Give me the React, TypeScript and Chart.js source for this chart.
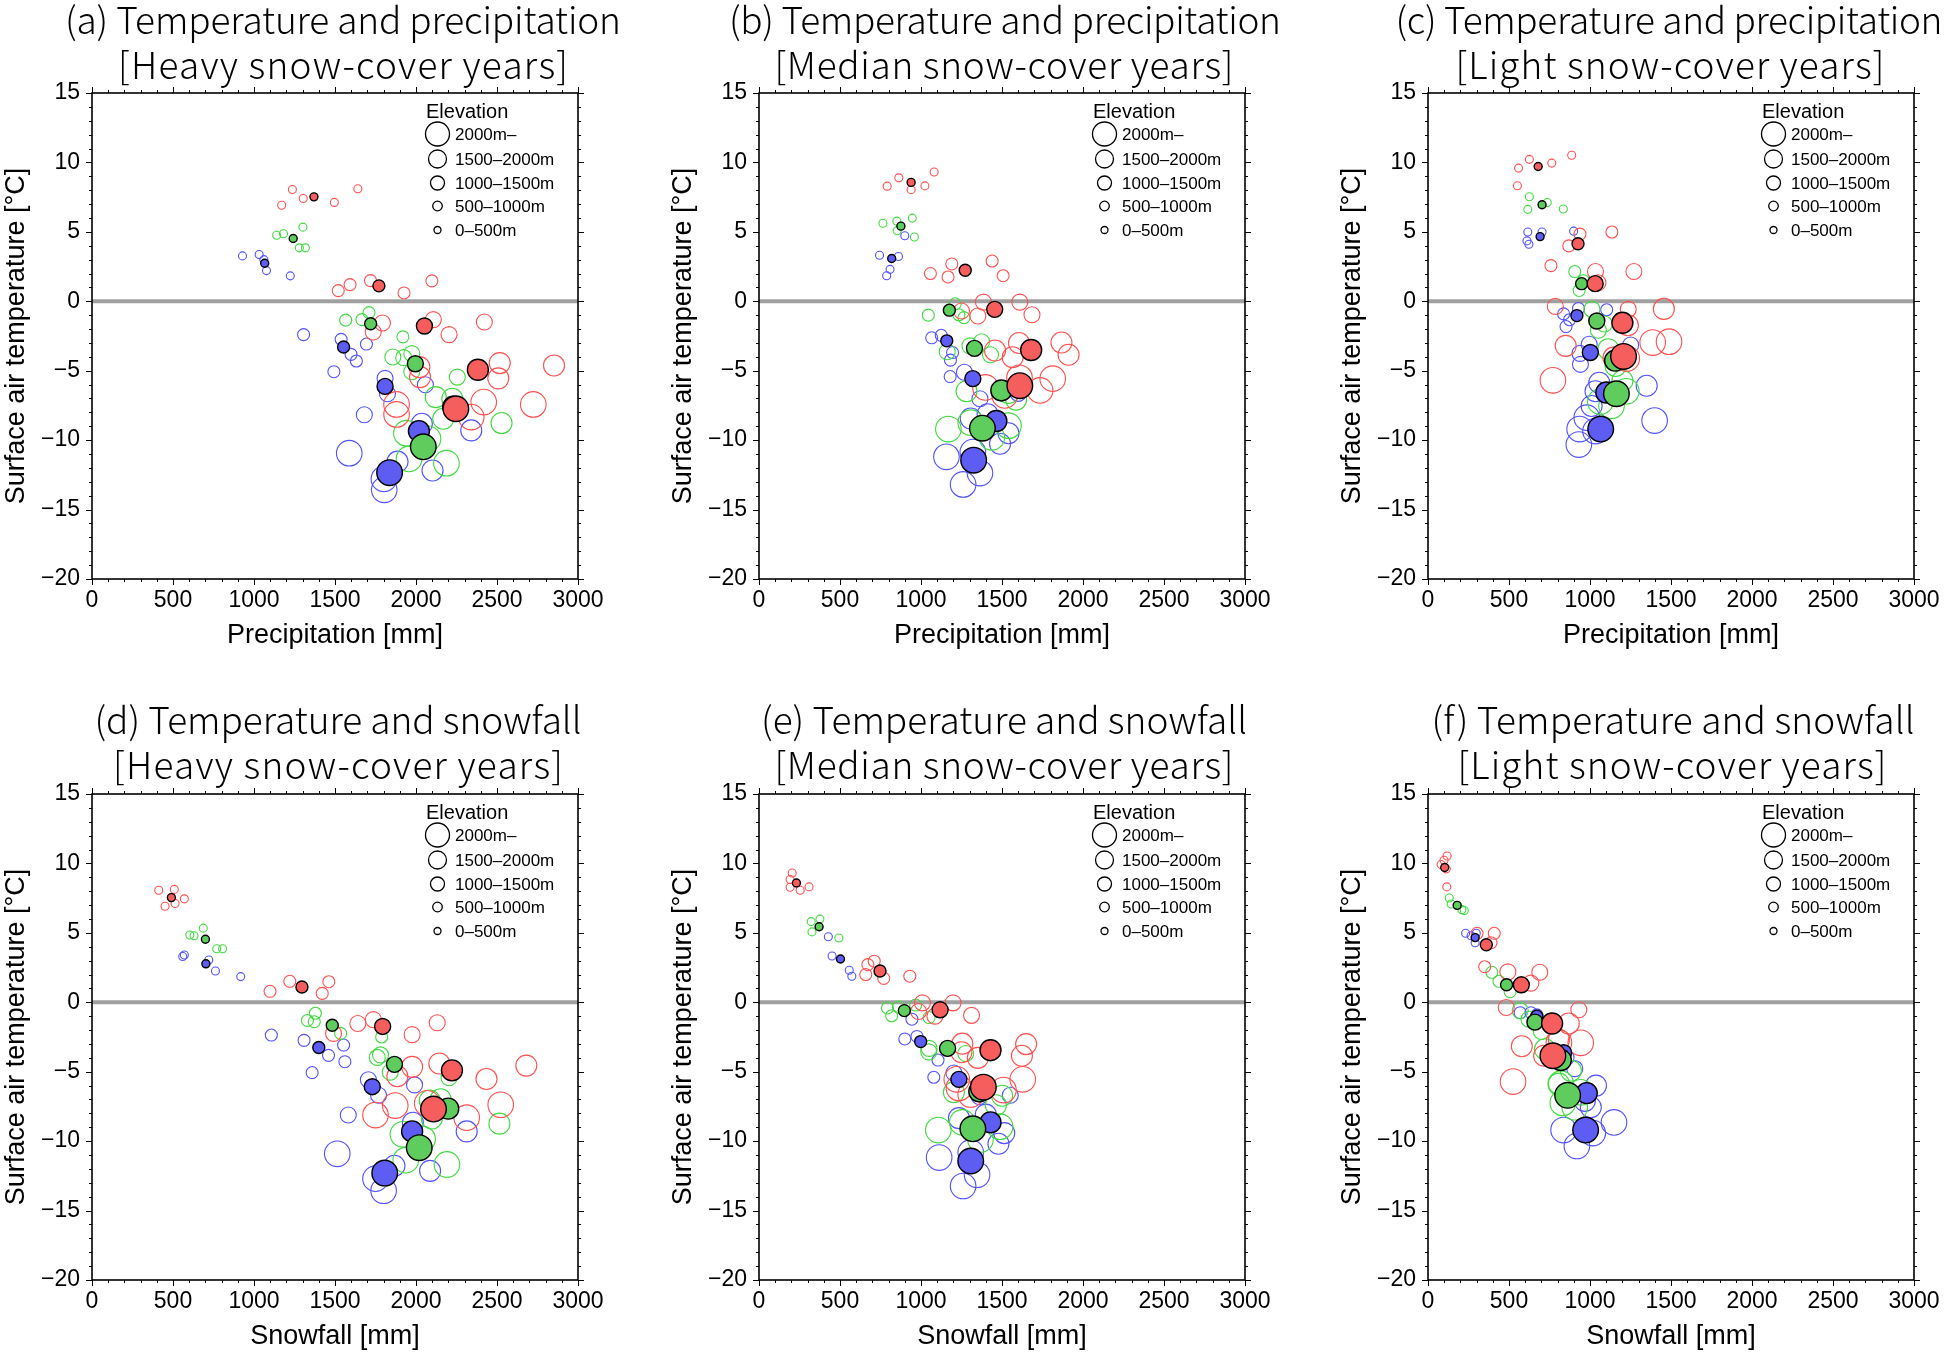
import React, { useEffect, useRef } from 'react';
import { Chart, registerables } from 'chart.js';

Chart.register(...registerables);

// ---------------------------------------------------------------------------
// Data: [x value (mm), surface air temperature (°C), elevation class]
// elevation class: 0 = 0-500m, 1 = 500-1000m, 2 = 1000-1500m, 3 = 1500-2000m, 4 = 2000m-
// ---------------------------------------------------------------------------
type Pt = [number, number, number];

// (a) Temperature and precipitation, heavy snow-cover years
const A_RED_OPEN: Pt[] = [
  [1237, 8.05, 0], [1171, 6.92, 0], [1304, 7.4, 0], [1496, 7.12, 0], [1641, 8.1, 0],
  [1520, 0.77, 1], [1593, 1.2, 1], [1719, 1.49, 1], [1926, 0.6, 1], [2098, 1.47, 1],
  [1793, -1.56, 2], [1736, -2.21, 2], [2107, -1.32, 2], [2204, -2.4, 2], [2422, -1.49, 2],
  [2517, -4.45, 3], [2508, -5.55, 3], [2852, -4.62, 3], [2021, -4.74, 3], [2025, -5.46, 3],
  [1880, -7.43, 4], [1880, -8.15, 4], [2418, -7.26, 4], [2724, -7.43, 4], [2341, -8.34, 4],
];
const A_RED_MEAN: Pt[] = [[1370, 7.52, 0], [1771, 1.11, 1], [2052, -1.78, 2], [2382, -4.93, 3], [2246, -7.74, 4]];
const A_GREEN_OPEN: Pt[] = [
  [1140, 4.76, 0], [1182, 4.86, 0], [1302, 5.34, 0], [1280, 3.85, 0], [1317, 3.85, 0],
  [1566, -1.36, 1], [1666, -1.32, 1], [1710, -0.82, 1], [1919, -2.56, 1],
  [1857, -4.01, 2], [1924, -4.06, 2], [1974, -3.77, 2], [1974, -5.07, 2], [2255, -5.46, 2],
  [2122, -6.9, 3], [2224, -7.02, 3], [2168, -8.46, 3], [2528, -8.77, 3],
  [1941, -9.5, 4], [2074, -9.9, 4], [1957, -11.35, 4], [2188, -11.66, 4],
];
const A_GREEN_MEAN: Pt[] = [[1242, 4.52, 0], [1720, -1.62, 1], [1996, -4.5, 2], [2230, -7.6, 3], [2045, -10.48, 4]];
const A_BLUE_OPEN: Pt[] = [
  [929, 3.27, 0], [1032, 3.37, 0], [1061, 3.0, 0], [1077, 2.21, 0], [1224, 1.83, 0],
  [1306, -2.4, 1], [1538, -2.74, 1], [1694, -3.08, 1], [1599, -3.82, 1], [1632, -4.3, 1], [1493, -5.07, 1],
  [1809, -5.55, 2], [2058, -6.01, 2], [1824, -6.66, 2], [1681, -8.17, 2],
  [2036, -8.82, 3], [2341, -9.3, 3], [2102, -12.19, 3], [1886, -11.55, 3],
  [1588, -10.94, 4], [1802, -12.79, 4], [1804, -13.58, 4],
];
const A_BLUE_MEAN: Pt[] = [[1066, 2.74, 0], [1553, -3.29, 1], [1809, -6.13, 2], [2018, -9.35, 3], [1837, -12.34, 4]];

// (b) Temperature and precipitation, median snow-cover years
const B_RED_OPEN: Pt[] = [
  [791, 8.29, 0], [863, 8.89, 0], [939, 8.04, 0], [1024, 8.31, 0], [1081, 9.31, 0],
  [1058, 2.0, 1], [1167, 1.75, 1], [1190, 2.69, 1], [1439, 2.9, 1], [1507, 1.84, 1],
  [1250, -0.7, 2], [1351, -1.06, 2], [1385, -0.06, 2], [1610, -0.06, 2], [1685, -0.97, 2],
  [1457, -3.54, 3], [1566, -4.03, 3], [1605, -3.0, 3], [1867, -2.97, 3], [1911, -3.85, 3],
  [1398, -6.2, 4], [1517, -6.78, 4], [1735, -6.42, 4], [1813, -5.57, 4], [1608, -5.51, 4],
];
const B_RED_MEAN: Pt[] = [[939, 8.56, 0], [1273, 2.24, 1], [1455, -0.58, 2], [1680, -3.51, 3], [1610, -6.08, 4]];
const B_GREEN_OPEN: Pt[] = [
  [765, 5.62, 0], [851, 5.77, 0], [853, 5.08, 0], [946, 5.99, 0], [959, 4.63, 0],
  [1045, -1.0, 1], [1211, -0.18, 1], [1265, -1.18, 1], [1234, -0.97, 1],
  [1162, -3.63, 2], [1302, -3.21, 2], [1374, -2.91, 2], [1429, -3.85, 2],
  [1281, -6.48, 3], [1587, -7.08, 3], [1540, -6.6, 3],
  [1169, -9.2, 4], [1307, -8.74, 4], [1437, -9.8, 4], [1540, -8.96, 4],
];
const B_GREEN_MEAN: Pt[] = [[876, 5.41, 0], [1175, -0.64, 1], [1330, -3.39, 2], [1496, -6.42, 3], [1379, -9.14, 4]];
const B_BLUE_OPEN: Pt[] = [
  [744, 3.32, 0], [809, 2.3, 0], [788, 1.84, 0], [861, 3.23, 0], [900, 4.72, 0],
  [1066, -2.63, 1], [1125, -2.45, 1], [1195, -3.69, 1], [1182, -4.24, 1], [1180, -5.42, 1],
  [1268, -5.11, 2], [1364, -7.02, 2], [1600, -6.63, 2],
  [1307, -8.44, 3], [1411, -8.14, 3], [1540, -9.5, 3], [1488, -10.26, 3],
  [1157, -11.2, 4], [1260, -13.19, 4], [1364, -12.37, 4], [1320, -10.86, 4],
];
const B_BLUE_MEAN: Pt[] = [[819, 3.08, 0], [1159, -2.85, 1], [1320, -5.57, 2], [1465, -8.62, 3], [1325, -11.44, 4]];

// (c) Temperature and precipitation, light snow-cover years
const C_RED_OPEN: Pt[] = [
  [559, 9.59, 0], [626, 10.22, 0], [552, 8.32, 0], [764, 9.95, 0], [887, 10.52, 0],
  [759, 2.57, 1], [869, 3.99, 1], [938, 4.84, 1], [1135, 4.99, 1],
  [1034, 2.14, 2], [1271, 2.14, 2], [1049, 1.33, 2], [786, -0.37, 2], [1236, -0.58, 2],
  [1456, -0.55, 3], [1234, -1.73, 3], [850, -3.21, 3], [1145, -4.06, 3],
  [771, -5.69, 4], [1227, -4.12, 4], [1488, -2.91, 4], [1387, -2.97, 4],
];
const C_RED_MEAN: Pt[] = [[680, 9.71, 0], [926, 4.14, 1], [1032, 1.27, 2], [1200, -1.55, 3], [1207, -3.97, 4]];
const C_GREEN_OPEN: Pt[] = [
  [626, 7.53, 0], [616, 6.62, 0], [736, 7.11, 0], [835, 6.65, 0],
  [906, 2.14, 1], [933, 0.78, 1], [960, 1.48, 1],
  [1012, -0.58, 2], [1089, -1.64, 2], [1052, -2.09, 2],
  [1113, -3.45, 3], [1158, -4.66, 3], [1200, -5.72, 3],
  [1064, -7.23, 4], [1133, -7.53, 4], [1224, -6.48, 4],
];
const C_GREEN_MEAN: Pt[] = [[704, 6.95, 0], [948, 1.27, 1], [1042, -1.42, 2], [1155, -4.27, 3], [1163, -6.66, 4]];
const C_BLUE_OPEN: Pt[] = [
  [616, 4.99, 0], [611, 4.35, 0], [623, 4.11, 0], [704, 4.99, 0], [899, 5.05, 0],
  [837, -0.91, 1], [852, -1.82, 1], [929, -0.52, 1], [1103, -0.61, 1], [874, -1.33, 1],
  [995, -3.09, 2], [938, -3.75, 2], [941, -4.54, 2], [1251, -3.15, 2],
  [1057, -5.87, 3], [1350, -6.08, 3], [1034, -6.48, 3], [1010, -7.54, 3],
  [980, -8.38, 4], [936, -9.2, 4], [931, -10.32, 4], [1399, -8.59, 4], [1034, -9.35, 4],
];
const C_BLUE_MEAN: Pt[] = [[692, 4.66, 0], [919, -1.03, 1], [1002, -3.69, 2], [1101, -6.57, 3], [1066, -9.2, 4]];

// (d) Temperature and snowfall, heavy snow-cover years
const D_RED_OPEN: Pt[] = [
  [412, 8.07, 0], [451, 6.92, 0], [508, 8.13, 0], [513, 7.11, 0], [570, 7.45, 0],
  [1099, 0.79, 1], [1221, 1.51, 1], [1421, 0.64, 1], [1462, 1.48, 1],
  [1641, -1.53, 2], [1737, -1.25, 2], [1491, -2.24, 2], [1976, -2.33, 2], [2131, -1.47, 2],
  [2144, -4.41, 3], [1976, -4.65, 3], [1885, -5.33, 3], [2435, -5.52, 3], [2681, -4.56, 3],
  [1750, -8.12, 4], [1872, -7.44, 4], [2313, -8.31, 4], [2523, -7.38, 4], [2069, -7.28, 4],
];
const D_RED_MEAN: Pt[] = [[490, 7.54, 0], [1296, 1.1, 1], [1794, -1.74, 2], [2222, -4.9, 3], [2108, -7.69, 4]];
const D_GREEN_OPEN: Pt[] = [
  [604, 4.85, 0], [630, 4.79, 0], [687, 5.34, 0], [770, 3.86, 0], [806, 3.86, 0],
  [1330, -1.31, 1], [1372, -1.4, 1], [1379, -0.79, 1], [1535, -2.24, 1], [1788, -2.5, 1],
  [1761, -3.97, 2], [1781, -3.79, 2], [1841, -5.03, 2], [2204, -5.43, 2],
  [2085, -7.07, 3], [2152, -6.98, 3], [2098, -8.37, 3], [2515, -8.74, 3],
  [1919, -9.51, 4], [2041, -9.85, 4], [1937, -11.37, 4], [2191, -11.68, 4],
];
const D_GREEN_MEAN: Pt[] = [[700, 4.54, 0], [1483, -1.65, 1], [1867, -4.47, 2], [2199, -7.66, 3], [2020, -10.47, 4]];
const D_BLUE_OPEN: Pt[] = [
  [560, 3.3, 0], [570, 3.4, 0], [721, 3.05, 0], [762, 2.25, 0], [918, 1.85, 0],
  [1107, -2.36, 1], [1309, -2.74, 1], [1460, -3.82, 1], [1553, -3.08, 1], [1561, -4.28, 1], [1359, -5.06, 1],
  [1706, -5.58, 2], [1769, -6.7, 2], [1991, -5.95, 2], [1582, -8.12, 2],
  [1981, -8.68, 3], [2313, -9.3, 3], [2087, -12.14, 3], [1867, -11.77, 3],
  [1514, -10.91, 4], [1750, -12.7, 4], [1800, -13.57, 4],
];
const D_BLUE_MEAN: Pt[] = [[703, 2.77, 0], [1400, -3.26, 1], [1730, -6.08, 2], [1976, -9.3, 3], [1807, -12.3, 4]];

// (e) Temperature and snowfall, median snow-cover years
const E_RED_OPEN: Pt[] = [
  [192, 8.28, 0], [205, 9.31, 0], [192, 8.84, 0], [254, 8.07, 0], [309, 8.31, 0],
  [659, 2.0, 1], [672, 2.71, 1], [711, 2.96, 1], [770, 1.72, 1], [931, 1.88, 1],
  [1009, -0.04, 2], [985, -0.66, 2], [1086, -1.0, 2], [1198, -0.04, 2], [1312, -0.94, 2],
  [1255, -2.98, 3], [1250, -3.6, 3], [1351, -4.0, 3], [1623, -3.85, 3], [1649, -3.01, 3],
  [1234, -6.17, 4], [1307, -6.64, 4], [1509, -6.32, 4], [1628, -5.55, 4], [1221, -5.55, 4],
];
const E_RED_MEAN: Pt[] = [[231, 8.59, 0], [747, 2.25, 1], [1118, -0.54, 2], [1429, -3.45, 3], [1385, -6.11, 4]];
const E_GREEN_OPEN: Pt[] = [
  [322, 5.81, 0], [376, 5.99, 0], [327, 5.07, 0], [493, 4.63, 0],
  [793, -0.41, 1], [819, -0.97, 1], [861, -0.35, 1], [967, -0.2, 1], [1050, -1.1, 1],
  [1050, -3.32, 2], [1048, -3.57, 2], [1276, -3.69, 2],
  [1203, -6.48, 3], [1501, -6.73, 3], [1462, -7.41, 3],
  [1107, -9.2, 4], [1255, -8.65, 4], [1367, -9.88, 4], [1488, -8.96, 4],
];
const E_GREEN_MEAN: Pt[] = [[371, 5.44, 0], [897, -0.6, 1], [1164, -3.32, 2], [1360, -6.42, 3], [1320, -9.11, 4]];
const E_BLUE_OPEN: Pt[] = [
  [428, 4.72, 0], [451, 3.33, 0], [557, 2.31, 0], [573, 1.88, 0],
  [900, -2.64, 1], [975, -2.46, 1], [1105, -4.16, 1], [1079, -5.4, 1], [944, -1.22, 1],
  [1203, -5.09, 2], [1359, -6.79, 2], [1551, -6.7, 2],
  [1234, -8.34, 3], [1400, -8.09, 3], [1514, -9.42, 3], [1478, -10.19, 3],
  [1112, -11.18, 4], [1260, -13.23, 4], [1346, -12.42, 4], [1307, -10.81, 4],
];
const E_BLUE_MEAN: Pt[] = [[503, 3.12, 0], [998, -2.83, 1], [1234, -5.55, 2], [1429, -8.65, 3], [1307, -11.43, 4]];

// (f) Temperature and snowfall, light snow-cover years
const F_RED_OPEN: Pt[] = [
  [81, 9.92, 0], [118, 10.54, 0], [116, 8.31, 0], [99, 10.23, 0], [113, 9.61, 0],
  [350, 2.56, 1], [303, 4.97, 1], [409, 4.97, 1], [389, 4.29, 1],
  [493, 2.19, 2], [690, 2.16, 2], [635, 1.38, 2], [483, -0.38, 2], [931, -0.54, 2],
  [869, -1.53, 3], [579, -3.17, 3], [808, -2.7, 3], [717, -3.85, 3],
  [525, -5.71, 4], [943, -2.92, 4], [808, -2.9, 4],
];
const F_RED_MEAN: Pt[] = [[103, 9.71, 0], [360, 4.14, 1], [576, 1.26, 2], [766, -1.53, 3], [771, -3.85, 4]];
const F_GREEN_OPEN: Pt[] = [
  [131, 7.51, 0], [143, 7.08, 0], [224, 6.61, 0], [209, 6.67, 0],
  [394, 2.16, 1], [438, 1.51, 1], [507, 0.76, 1],
  [569, -0.6, 2], [623, -1.22, 2], [700, -2.1, 2],
  [722, -3.38, 3], [882, -4.93, 3], [808, -5.86, 3],
  [820, -5.86, 4], [832, -7.25, 4], [906, -7.56, 4], [943, -6.48, 4],
];
const F_GREEN_MEAN: Pt[] = [[180, 6.98, 0], [485, 1.26, 1], [660, -1.43, 2], [820, -4.16, 3], [862, -6.7, 4]];
const F_BLUE_OPEN: Pt[] = [
  [232, 4.97, 0], [291, 4.29, 0], [266, 4.79, 0], [298, 4.97, 0],
  [635, -0.75, 1], [569, -0.75, 1], [672, -0.91, 1],
  [852, -4.0, 2], [906, -4.78, 2],
  [1037, -6.0, 3], [968, -7.1, 3], [1005, -7.56, 3],
  [837, -9.2, 4], [919, -10.35, 4], [1148, -8.65, 4], [1017, -9.42, 4],
];
const F_BLUE_MEAN: Pt[] = [[291, 4.66, 0], [672, -1.0, 1], [837, -3.63, 2], [980, -6.54, 3], [973, -9.2, 4]];

// Axis settings
const X_MIN = 0;
const X_MAX = 3000;
const X_MAJOR = 500;
const X_MINOR = 100;
const Y_MIN = -20;
const Y_MAX = 15;
const Y_MAJOR = 5;
const Y_MINOR = 1;
const Y_TITLE = 'Surface air temperature [°C]';
const LEGEND_TITLE = 'Elevation';
// legend order top -> bottom uses classes 4..0
const ELEV_LABELS = ['0–500m', '500–1000m', '1000–1500m', '1500–2000m', '2000m–'];

// ---------------------------------------------------------------------------
// Styles / layout
// ---------------------------------------------------------------------------
const POINT_R = [4, 6, 8, 10.5, 12.8];
const LEGEND_R = [3.5, 4.8, 7, 9, 12];
const COLORS = {
  red: { fill: '#f65e5e', line: '#ff5050' },
  green: { fill: '#5ecd5e', line: '#40da40' },
  blue: { fill: '#5d5df3', line: '#5252ff' },
};
const ZERO_COLOR = '#a0a0a0';
const SANS = '"Liberation Sans", Arial, Helvetica, sans-serif';
const PLOT = 486;
const Y_AXIS_W = 92;
const X_AXIS_H = 90;
const PAD_T = 16;
const PAD_R = 34;

const PANELS = [
  { key: 'a', l1: '(a) Temperature and precipitation', l2: '[Heavy snow-cover years]', xt: 'Precipitation [mm]',
    red: [A_RED_OPEN, A_RED_MEAN], green: [A_GREEN_OPEN, A_GREEN_MEAN], blue: [A_BLUE_OPEN, A_BLUE_MEAN],
    left: 92, top: 93, t1: [343, 556, 34], t2: [343, 450, 79] },
  { key: 'b', l1: '(b) Temperature and precipitation', l2: '[Median snow-cover years]', xt: 'Precipitation [mm]',
    red: [B_RED_OPEN, B_RED_MEAN], green: [B_GREEN_OPEN, B_GREEN_MEAN], blue: [B_BLUE_OPEN, B_BLUE_MEAN],
    left: 759, top: 93, t1: [1005, 552, 34], t2: [1004, 459, 79] },
  { key: 'c', l1: '(c) Temperature and precipitation', l2: '[Light snow-cover years]', xt: 'Precipitation [mm]',
    red: [C_RED_OPEN, C_RED_MEAN], green: [C_GREEN_OPEN, C_GREEN_MEAN], blue: [C_BLUE_OPEN, C_BLUE_MEAN],
    left: 1428, top: 93, t1: [1669, 547, 34], t2: [1670, 429, 79] },
  { key: 'd', l1: '(d) Temperature and snowfall', l2: '[Heavy snow-cover years]', xt: 'Snowfall [mm]',
    red: [D_RED_OPEN, D_RED_MEAN], green: [D_GREEN_OPEN, D_GREEN_MEAN], blue: [D_BLUE_OPEN, D_BLUE_MEAN],
    left: 92, top: 794, t1: [338, 487, 734], t2: [338, 450, 779] },
  { key: 'e', l1: '(e) Temperature and snowfall', l2: '[Median snow-cover years]', xt: 'Snowfall [mm]',
    red: [E_RED_OPEN, E_RED_MEAN], green: [E_GREEN_OPEN, E_GREEN_MEAN], blue: [E_BLUE_OPEN, E_BLUE_MEAN],
    left: 759, top: 794, t1: [1004, 486, 734], t2: [1004, 459, 779] },
  { key: 'f', l1: '(f) Temperature and snowfall', l2: '[Light snow-cover years]', xt: 'Snowfall [mm]',
    red: [F_RED_OPEN, F_RED_MEAN], green: [F_GREEN_OPEN, F_GREEN_MEAN], blue: [F_BLUE_OPEN, F_BLUE_MEAN],
    left: 1428, top: 794, t1: [1673, 483, 734], t2: [1672, 429, 779] },
];

const framePlugin = {
  id: 'gmtFrame',
  beforeDatasetsDraw(chart: any) {
    const { ctx, chartArea, scales } = chart;
    const py = scales.y.getPixelForValue(0);
    ctx.save();
    ctx.strokeStyle = ZERO_COLOR;
    ctx.lineWidth = 4;
    ctx.beginPath();
    ctx.moveTo(chartArea.left, py);
    ctx.lineTo(chartArea.right, py);
    ctx.stroke();
    ctx.restore();
  },
  afterDraw(chart: any) {
    const { ctx, chartArea, scales } = chart;
    const { left, right, top, bottom } = chartArea;
    ctx.save();
    ctx.strokeStyle = '#000';
    ctx.lineWidth = 1;
    ctx.beginPath();
    for (let v = X_MIN; v <= X_MAX + 1e-6; v += X_MINOR) {
      const px = Math.round(scales.x.getPixelForValue(v)) + 0.5;
      const len = v % X_MAJOR === 0 ? 6 : 3;
      ctx.moveTo(px, bottom);
      ctx.lineTo(px, bottom + len);
      ctx.moveTo(px, top);
      ctx.lineTo(px, top - len);
    }
    for (let v = Y_MIN; v <= Y_MAX + 1e-6; v += Y_MINOR) {
      const py = Math.round(scales.y.getPixelForValue(v)) + 0.5;
      const len = Math.abs(v % Y_MAJOR) === 0 ? 6 : 3;
      ctx.moveTo(left, py);
      ctx.lineTo(left - len, py);
      ctx.moveTo(right, py);
      ctx.lineTo(right + len, py);
    }
    ctx.stroke();
    ctx.lineWidth = 1.6;
    ctx.strokeRect(left, top, right - left, bottom - top);

    // Elevation legend
    ctx.fillStyle = '#000';
    ctx.font = `20px ${SANS}`;
    ctx.textAlign = 'left';
    ctx.textBaseline = 'alphabetic';
    ctx.fillText(LEGEND_TITLE, left + 334, top + 24.5);
    const rowsY = [41, 66, 90, 113, 137];
    ctx.font = `17px ${SANS}`;
    ctx.textBaseline = 'middle';
    ctx.lineWidth = 1.3;
    for (let i = 0; i < 5; i++) {
      const cls = 4 - i;
      const cy = top + rowsY[i];
      ctx.beginPath();
      ctx.arc(left + 345.5, cy, LEGEND_R[cls], 0, Math.PI * 2);
      ctx.stroke();
      ctx.fillText(ELEV_LABELS[cls], left + 363, cy + 1);
    }
    ctx.restore();
  },
};

function makeDataset(label: string, pts: Pt[], col: { fill: string; line: string }, filled: boolean, order: number) {
  const radius = (c: any) => POINT_R[(c.raw && c.raw.c) || 0];
  return {
    label,
    data: pts.map(([x, y, c]) => ({ x, y, c })),
    order,
    showLine: false,
    pointRadius: radius,
    pointHoverRadius: radius,
    pointBackgroundColor: filled ? col.fill : 'rgba(0,0,0,0)',
    pointBorderColor: filled ? '#000' : col.line,
    pointBorderWidth: filled ? 1.4 : 1.1,
    pointHoverBorderWidth: filled ? 1.4 : 1.1,
  };
}

const fmtTick = (v: any) => String(v).replace('-', '\u2212');

function Panel({ p }: { p: any }) {
  const ref = useRef<HTMLCanvasElement | null>(null);
  useEffect(() => {
    if (!ref.current) return;
    const chart = new Chart(ref.current, {
      type: 'scatter',
      data: {
        datasets: [
          makeDataset('Red – mean', p.red[1], COLORS.red, true, 1),
          makeDataset('Green – mean', p.green[1], COLORS.green, true, 2),
          makeDataset('Blue – mean', p.blue[1], COLORS.blue, true, 3),
          makeDataset('Red', p.red[0], COLORS.red, false, 4),
          makeDataset('Green', p.green[0], COLORS.green, false, 5),
          makeDataset('Blue', p.blue[0], COLORS.blue, false, 6),
        ] as any,
      },
      options: {
        animation: false,
        responsive: false,
        events: [],
        layout: { autoPadding: false, padding: { top: PAD_T, right: PAD_R, left: 0, bottom: 0 } },
        plugins: { legend: { display: false }, tooltip: { enabled: false } },
        scales: {
          x: {
            type: 'linear',
            min: X_MIN,
            max: X_MAX,
            grid: { display: false, drawTicks: false },
            border: { display: false },
            ticks: { stepSize: X_MAJOR, autoSkip: false, maxRotation: 0, color: '#000', font: { size: 23, family: SANS }, padding: 8, callback: fmtTick },
            title: { display: true, text: p.xt, color: '#000', font: { size: 27, family: SANS }, padding: { top: 0, bottom: 17 } },
            afterFit: (s: any) => { s.height = X_AXIS_H; s.paddingLeft = 0; s.paddingRight = 0; },
          },
          y: {
            type: 'linear',
            min: Y_MIN,
            max: Y_MAX,
            grid: { display: false, drawTicks: false },
            border: { display: false },
            ticks: {
              stepSize: Y_MAJOR, autoSkip: false, color: '#000', font: { size: 23, family: SANS }, padding: 12,
              callback: fmtTick,
            },
            title: { display: true, text: Y_TITLE, color: '#000', font: { size: 27, family: SANS }, padding: { top: 0, bottom: 0 } },
            afterFit: (s: any) => { s.width = Y_AXIS_W; s.paddingTop = 0; s.paddingBottom = 0; },
          },
        },
      } as any,
      plugins: [framePlugin],
    });
    return () => chart.destroy();
  }, [p]);
  const w = Y_AXIS_W + PLOT + PAD_R;
  const h = PAD_T + PLOT + X_AXIS_H;
  return (
    <canvas
      ref={ref}
      width={w}
      height={h}
      style={{ position: 'absolute', left: p.left - Y_AXIS_W, top: p.top - PAD_T, width: w, height: h }}
    />
  );
}

export default function App() {
  const titleFont = '"Noto Sans CJK JP", "Noto Sans", sans-serif';
  return (
    <div style={{ position: 'absolute', left: 0, top: 0, width: 1946, height: 1354, background: '#fff', overflow: 'hidden' }}>
      {PANELS.map((p) => (
        <Panel key={p.key} p={p} />
      ))}
      <svg width={1946} height={1354} style={{ position: 'absolute', left: 0, top: 0, pointerEvents: 'none' }}>
        {PANELS.map((p) => (
          <g key={p.key} fontFamily={titleFont} fontSize={37} fontWeight={300} fill="#000">
            <text x={p.t1[0]} y={p.t1[2]} textAnchor="middle" textLength={p.t1[1]} lengthAdjust="spacing">{p.l1}</text>
            <text x={p.t2[0]} y={p.t2[2]} textAnchor="middle" textLength={p.t2[1]} lengthAdjust="spacing">{p.l2}</text>
          </g>
        ))}
      </svg>
    </div>
  );
}
